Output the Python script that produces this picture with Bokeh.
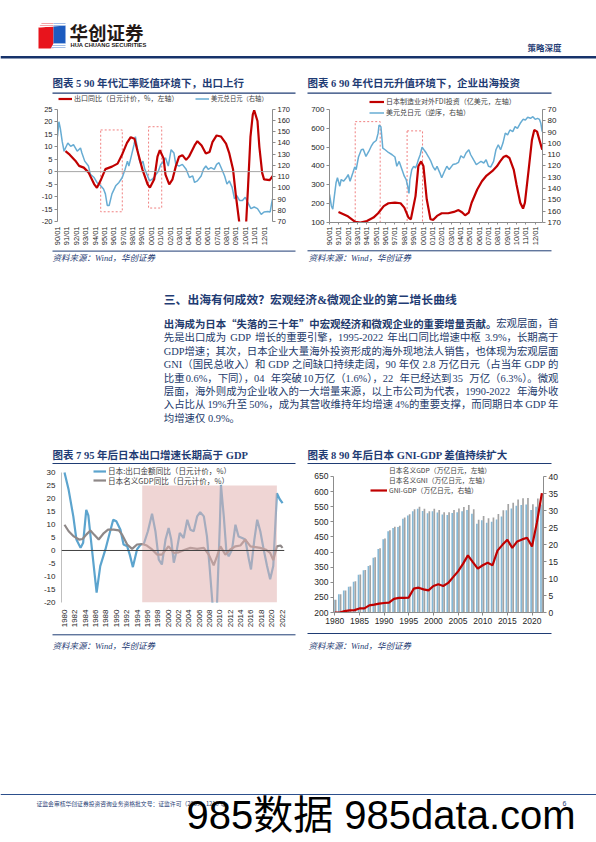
import math
from bokeh.plotting import figure
from bokeh.layouts import column, row
from bokeh.models import (Range1d, LinearAxis, FixedTicker, Span, Legend, LegendItem,
                          ColumnDataSource)
from bokeh.transform import dodge
from bokeh.core.properties import value
from bokeh.embed import file_html
from bokeh.resources import INLINE

# ---------------------------------------------------------------- data
# Chart 5: 出口同比 (left axis, %) and 美元兑日元 (right axis)
c5_tick_years = list(range(1990, 2013))
c5_tick_labels = ["90/01", "91/01", "92/01", "93/01", "94/01", "95/01", "96/01", "97/01",
                  "98/01", "99/01", "00/01", "01/01", "02/01", "03/01", "04/01", "05/01",
                  "06/01", "07/01", "08/01", "09/01", "10/01", "11/01", "12/01"]
c5_export_x = [1990.85, 1991.3, 1991.9, 1992.3, 1992.8, 1993.3, 1993.9, 1994.2, 1994.6, 1995.1,
               1995.8, 1996.4, 1996.9, 1997.4, 1997.8, 1998.2, 1998.5, 1999.05, 1999.6, 1999.85,
               2000.3, 2000.65, 2000.9, 2001.3, 2001.5, 2001.9, 2002.25, 2002.6, 2002.95, 2003.3,
               2003.7, 2004.0, 2004.6, 2004.9, 2005.35, 2005.8, 2006.2, 2006.5, 2006.95, 2007.4,
               2007.95, 2008.3, 2008.7, 2009.0, 2009.35, 2009.6, 2009.85, 2010.1, 2010.3, 2010.55,
               2010.8, 2010.95, 2011.3, 2011.5, 2011.8, 2012.0, 2012.6, 2012.95]
c5_export_y = [8.2, 6.8, 4.4, 2.3, 1.6, -0.3, -5.0, -6.5, -3.5, 1.0,
               2.0, 3.2, 7.0, 11.5, 13.8, 13.2, 8.6, 0.8, -5.1, -6.4,
               -3.1, 6.0, 8.6, 5.3, -1.2, -5.1, -3.1, 2.1, 6.0, 6.6,
               4.7, 6.0, 10.5, 12.2, 10.5, 7.3, 7.9, 11.8, 14.5, 14.1,
               11.2, 7.3, 0.8, -9.6, -20.0, -33.0, -30.0, -20.0, -5.7, 13.8,
               22.9, 24.6, 20.3, 9.9, -0.5, -3.1, -3.4, -1.6]
c5_usdjpy_x = [1990.0, 1990.15, 1990.3, 1990.5, 1990.7, 1990.85, 1991.1, 1991.4, 1991.7, 1992.1,
               1992.45, 1992.6, 1992.9, 1993.3, 1993.5, 1993.9, 1994.2, 1994.6, 1994.9, 1995.1,
               1995.3, 1995.5, 1995.8, 1996.2, 1996.55, 1996.9, 1997.2, 1997.45, 1997.6, 1997.9,
               1998.15, 1998.3, 1998.5, 1998.7, 1998.9, 1999.1, 1999.3, 1999.6, 1999.8, 2000.1,
               2000.4, 2000.75, 2001.0, 2001.2, 2001.5, 2001.8, 2002.1, 2002.4, 2002.6, 2002.95,
               2003.3, 2003.7, 2004.05, 2004.4, 2004.6, 2004.9, 2005.3, 2005.55, 2005.8, 2006.05,
               2006.35, 2006.7, 2006.95, 2007.2, 2007.5, 2007.8, 2008.05, 2008.3, 2008.6, 2008.85,
               2009.1, 2009.4, 2009.7, 2010.0, 2010.25, 2010.6, 2010.95, 2011.3, 2011.7, 2012.0,
               2012.4, 2012.65, 2012.8, 2012.95]
c5_usdjpy_y = [145.7, 158.9, 153.0, 141.3, 132.6, 135.5, 139.9, 137.0, 138.4, 132.6,
               135.5, 131.1, 123.8, 119.4, 112.1, 109.2, 104.8, 101.8, 98.9, 94.6,
               84.3, 84.3, 94.6, 101.8, 104.8, 109.2, 116.5, 123.8, 119.4, 129.6,
               138.4, 145.7, 135.5, 125.3, 120.9, 123.8, 116.5, 110.6, 106.2, 107.7,
               110.6, 115.0, 120.9, 122.4, 126.8, 119.4, 134.0, 131.1, 120.9, 119.4,
               120.9, 116.5, 109.2, 110.6, 104.8, 106.2, 110.6, 116.5, 119.4, 116.5,
               118.0, 116.5, 120.9, 122.4, 116.5, 110.6, 103.3, 106.2, 100.4, 90.2,
               93.1, 88.7, 88.7, 91.6, 87.3, 81.4, 82.9, 81.4, 76.4, 78.5,
               79.0, 78.5, 85.8, 91.6]
c5_box_left = [1994.6, 1999.7]
c5_box_right = [1996.9, 2001.1]
c5_box_bottom = [-16.1, -14.6]
c5_box_top = [16.7, 18.0]

# Chart 6: 日本制造业对外FDI投资 (left) and 美元兑日元 reversed (right)
c6_fdi_x = [1990.96, 1991.9, 1992.75, 1993.3, 1994.0, 1994.7, 1995.2, 1995.8, 1996.3, 1997.0,
            1997.6, 1998.0, 1998.45, 1998.7, 1999.2, 1999.5, 1999.8, 2000.05, 2000.4, 2000.8,
            2001.1, 2001.5, 2002.0, 2002.7, 2003.3, 2003.8, 2004.2, 2004.5, 2004.9, 2005.2,
            2005.8, 2006.3, 2006.8, 2007.4, 2007.9, 2008.25, 2008.6, 2008.9, 2009.25, 2009.7,
            2010.0, 2010.4, 2010.7, 2010.9, 2011.3, 2011.65, 2011.9, 2012.2, 2012.5, 2012.75]
c6_fdi_y = [156, 135, 103, 100, 108, 126, 149, 187, 202, 205,
            202, 179, 126, 117, 240, 398, 424, 398, 223, 117,
            114, 135, 149, 149, 156, 166, 153, 138, 153, 205,
            275, 319, 349, 372, 398, 424, 447, 454, 442, 381,
            302, 205, 174, 205, 381, 538, 591, 582, 529, 486]
c6_usdjpy_x = [1990.0, 1990.2, 1990.35, 1990.5, 1990.7, 1990.85, 1991.1, 1991.25, 1991.5, 1991.8,
               1992.0, 1992.2, 1992.5, 1992.7, 1992.85, 1993.1, 1993.4, 1993.6, 1993.9, 1994.2,
               1994.45, 1994.7, 1995.0, 1995.2, 1995.3, 1995.5, 1995.7, 1995.95, 1996.3, 1996.7,
               1997.0, 1997.2, 1997.45, 1997.75, 1998.0, 1998.2, 1998.4, 1998.5, 1998.6, 1998.8,
               1999.0, 1999.2, 1999.35, 1999.5, 1999.7, 1999.9, 2000.1, 2000.35, 2000.6, 2000.85,
               2001.05, 2001.3, 2001.5, 2001.8, 2002.0, 2002.3, 2002.55, 2002.8, 2003.2, 2003.55,
               2003.8, 2004.05, 2004.35, 2004.6, 2004.9, 2005.1, 2005.4, 2005.7, 2005.95, 2006.2,
               2006.5, 2006.75, 2007.0, 2007.25, 2007.55, 2007.8, 2008.05, 2008.3, 2008.55, 2008.8,
               2009.05, 2009.3, 2009.6, 2009.85, 2010.1, 2010.4, 2010.7, 2010.95, 2011.2, 2011.5,
               2011.75, 2012.0, 2012.25, 2012.45, 2012.6, 2012.75]
c6_usdjpy_y = [145.2, 155.4, 158.3, 148.0, 134.9, 130.5, 137.9, 132.0, 133.5, 130.5,
               127.6, 133.5, 126.1, 120.9, 123.2, 112.1, 105.7, 105.1, 111.6, 107.2,
               102.8, 99.3, 97.5, 91.0, 83.8, 85.3, 104.2, 105.7, 108.1, 110.1,
               112.1, 120.3, 116.0, 123.2, 129.1, 132.0, 139.3, 144.3, 132.0, 123.2,
               120.3, 121.7, 118.8, 114.5, 110.1, 103.3, 105.7, 108.6, 112.1, 116.0,
               120.3, 123.8, 120.3, 126.1, 130.5, 124.7, 120.3, 123.2, 118.8, 118.0,
               116.8, 111.0, 113.0, 108.6, 105.7, 110.1, 114.5, 118.8, 117.4, 116.0,
               117.4, 114.5, 120.3, 120.9, 116.0, 105.7, 101.3, 105.7, 99.8, 91.0,
               92.5, 88.2, 89.7, 85.3, 86.8, 82.3, 78.8, 79.4, 77.0, 77.9,
               76.5, 78.8, 77.9, 78.8, 82.3, 89.7]
c6_box_left = [1992.75, 1998.3]
c6_box_right = [1995.42, 1999.95]
c6_box_bottom = [100, 100]
c6_box_top = [635, 586]

# Chart 7: 日本出口金额同比 and 名义GDP同比 (%)
c7_tick_years = list(range(1980, 2023, 2))
c7_tick_labels = ["1980", "1982", "1984", "1986", "1988", "1990", "1992", "1994", "1996",
                  "1998", "2000", "2002", "2004", "2006", "2008", "2010", "2012", "2014",
                  "2016", "2018", "2020", "2022"]
c7_export_x = [1980.0, 1980.8, 1981.7, 1982.3, 1983.1, 1983.6, 1984.2, 1984.6, 1985.3, 1986.2,
               1986.9, 1987.9, 1988.55, 1989.4, 1990.0, 1990.8, 1991.4, 1992.1, 1992.6, 1993.2,
               1994.0, 1994.7, 1995.3, 1996.1, 1996.9, 1997.55, 1998.2, 1998.8, 1999.5, 2000.1,
               2000.6, 2001.1, 2001.7, 2002.25, 2003.0, 2003.7, 2004.3, 2004.95, 2005.6, 2006.2,
               2006.9, 2007.5, 2008.0, 2008.55, 2009.0, 2009.45, 2010.0, 2010.2, 2010.75, 2011.25,
               2011.7, 2012.35, 2013.0, 2013.6, 2014.3, 2014.9, 2015.6, 2016.0, 2016.65, 2017.2,
               2017.8, 2018.45, 2019.1, 2019.7, 2020.3, 2021.0, 2021.55, 2022.1]
c7_export_y = [30.0, 23.3, 13.1, 4.2, 1.0, 3.0, 15.6, 13.5, 0.4, -16.2,
               -6.0, 0.4, 5.4, 11.8, 11.2, 8.0, 2.3, 1.6, -1.6, -6.4,
               0.4, 2.3, 2.5, 7.4, 14.1, 7.4, -3.5, -5.4, 4.2, 8.6,
               4.2, -4.7, 0.4, 6.7, 4.8, 11.8, 8.0, 7.4, 13.1, 14.7,
               13.1, 5.4, -6.0, -20.0, -33.0, -20.0, 10.5, 25.2, 13.1, -0.3,
               -2.2, 0.4, 9.9, 5.4, 4.8, 4.2, -3.5, -7.3, 4.2, 11.8,
               7.4, 0.4, -6.0, -11.1, -6.0, 22.0, 19.7, 18.2]
c7_gdp_x = [1980.0, 1980.8, 1981.8, 1982.8, 1983.5, 1984.2, 1985.0, 1985.7, 1986.6, 1987.6,
            1988.4, 1989.5, 1990.5, 1991.1, 1992.1, 1993.05, 1994.0, 1995.0, 1995.9, 1996.9,
            1997.9, 1998.8, 2000.1, 2001.1, 2002.05, 2003.35, 2004.3, 2005.6, 2006.9, 2007.85,
            2008.8, 2009.45, 2010.1, 2011.05, 2012.0, 2013.0, 2013.95, 2014.9, 2015.9, 2016.85,
            2017.8, 2018.8, 2019.7, 2020.3, 2021.0, 2021.7, 2022.1]
c7_gdp_y = [9.9, 7.4, 5.4, 4.2, 4.4, 6.1, 7.7, 6.1, 4.2, 6.7,
            8.0, 8.0, 7.7, 6.1, 2.3, 0.6, 2.3, 2.5, 1.9, 0.4,
            -1.6, -1.6, 1.6, -0.9, -0.7, 0.4, 1.0, 0.6, 1.0, -1.6,
            -5.7, -2.2, 1.6, -1.6, 0.4, 1.6, 1.9, 4.2, 1.6, 1.3,
            1.0, 0.4, -0.9, -3.7, 1.6, 1.9, 1.0]
c7_shade = {"left": [1995.0], "right": [2021.0], "bottom": [-20.0], "top": [25.0]}

# Chart 8: 名义GDP, 名义GNI (万亿日元, left) and GNI-GDP (right)
c8_years = list(range(1980, 2023))
c8_tick_years = [1980, 1985, 1990, 1995, 2000, 2005, 2010, 2015, 2020]
c8_gdp = [242, 260, 273, 285, 302, 325, 340, 354, 381, 410,
          442, 469, 480, 483, 510, 521, 535, 543, 536, 528,
          535, 531, 524, 523, 529, 532, 535, 539, 527, 494,
          505, 497, 500, 508, 518, 538, 544, 553, 556, 557,
          539, 550, 557]
c8_gni = [242, 260, 273, 286, 303, 326, 341, 356, 383, 413,
          445, 472, 484, 487, 514, 525, 542, 550, 543, 535,
          543, 539, 532, 532, 539, 544, 549, 556, 542, 507,
          519, 512, 514, 526, 538, 559, 563, 574, 578, 579,
          558, 577, 592]
c8_gap = [0.0, 0.0, 0.4, 0.6, 0.7, 1.2, 1.2, 2.1, 2.3, 2.6,
          2.8, 2.9, 4.0, 4.3, 4.3, 4.4, 7.0, 7.3, 6.8, 6.5,
          7.8, 8.3, 7.8, 8.7, 10.4, 12.1, 14.3, 16.8, 14.8, 12.9,
          13.9, 14.6, 13.9, 18.2, 19.9, 21.4, 19.0, 20.9, 21.5, 22.0,
          19.4, 26.5, 35.1]

# ---------------------------------------------------------------- styles
NAVY = "#1F3C74"
TXT = "#233A6B"
RED = "#C00000"
BLUE = "#67ACD3"
BLUE7 = "#5CA4CE"
GREY7 = "#8E8888"
GDP_BLUE = "#86B8D6"
GNI_GREY = "#A3A3A3"
AX = "#8C8C8C"
LAB = "#262626"
CN = "Noto Sans CJK SC"
SERIF_CN = "Liberation Serif, Noto Sans CJK SC"
SANS = "Liberation Sans"


def canvas(x0, x1, y0, y1):
    p = figure(width=x1 - x0, height=y1 - y0, x_range=Range1d(x0, x1), y_range=Range1d(y1, y0),
               toolbar_location=None, output_backend="svg", x_axis_type=None, y_axis_type=None,
               min_border=0, outline_line_color=None, title=None, frame_align=False)
    return p


def T(p, x, y, s, size, color=NAVY, font=SERIF_CN, style="normal", align="left"):
    p.text(x=[x], y=[y], text=[s], text_font=value(font), text_font_size=f"{size}px",
           text_color=color, text_font_style=style, text_align=align, text_baseline="middle")


def H(p, x0, x1, y, color=NAVY, w=1.0):
    p.line([x0, x1], [y, y], line_color=color, line_width=w)


def est_w(s, size):
    w = 0.0
    for ch in s:
        if ord(ch) >= 0x2E80:
            w += size
        elif ch.isdigit():
            w += 0.5 * size
        elif ch == ".":
            w += 0.25 * size
        elif ch == "-":
            w += 0.333 * size
        elif ch == "%":
            w += 0.833 * size
        elif ch in "GDN":
            w += 0.722 * size
        elif ch == "P":
            w += 0.556 * size
        elif ch == "I":
            w += 0.333 * size
        else:
            w += 0.5 * size
    return w


def justify(p, line, y, x0, x1, size, color):
    segs = line.split(" ")
    if len(segs) == 1:
        T(p, x0, y, line, size, color=color)
        return
    widths = [est_w(s, size) for s in segs]
    gap = (x1 - x0 - sum(widths)) / (len(segs) - 1)
    x = x0
    for i, (s, w) in enumerate(zip(segs, widths)):
        if i == len(segs) - 1:
            T(p, x1, y, s, size, color=color, align="right")
        else:
            T(p, x, y, s, size, color=color)
        x += w + gap


def chart(w, h, xr, yr, bl, br, bt, bb):
    p = figure(width=w, height=h, x_range=Range1d(*xr), y_range=Range1d(*yr),
               toolbar_location=None, output_backend="svg", title=None,
               min_border_left=bl, min_border_right=br, min_border_top=bt, min_border_bottom=bb,
               outline_line_color=None, frame_align=False)
    p.grid.visible = False
    return p


def style_axis(ax, ticks, labels, size, orient=None, line=True, tick=True, standoff=2, bounds=None,
               tick_out=3):
    ax.ticker = FixedTicker(ticks=ticks)
    ax.major_label_overrides = {t: l for t, l in zip(ticks, labels)}
    ax.major_label_text_font = SANS
    ax.major_label_text_font_size = f"{size}px"
    ax.major_label_text_color = LAB
    ax.axis_line_color = AX if line else None
    ax.major_tick_line_color = AX if tick else None
    ax.major_tick_out = tick_out
    ax.major_tick_in = 0
    ax.minor_tick_line_color = None
    ax.major_label_standoff = standoff
    if bounds is not None:
        ax.bounds = bounds
    if orient is not None:
        ax.major_label_orientation = orient


def leg(p, r, label, x_off, y_bottom, size, gw, h):
    # location = (x of glyph left, y of legend bottom) measured from the frame's bottom-left
    lg = Legend(items=[LegendItem(label=label, renderers=[r])], location=(x_off, y_bottom))
    lg.padding = 0
    lg.margin = 0
    lg.spacing = 0
    lg.border_line_alpha = 0
    lg.background_fill_alpha = 0
    lg.glyph_width = gw
    lg.glyph_height = h
    lg.label_height = h
    lg.label_standoff = 2
    lg.label_text_font = CN
    lg.label_text_font_size = f"{size}px"
    lg.label_text_color = "#404040"
    p.add_layout(lg)


SRC = "资料来源：Wind，华创证券"

# ---------------------------------------------------------------- header
hdr = canvas(0, 596, 0, 66)
hdr.patch([38, 53, 53, 38], [27, 26, 48, 48], fill_color="#E8141C", line_color=None)
hdr.patch([53, 65, 65, 53], [25.5, 25, 43, 43], fill_color="#1C5BBF", line_color=None)
hdr.patch([42, 53, 53, 38], [21.5, 21.5, 26, 27], fill_color="white", hatch_pattern="horizontal_line",
          hatch_color="#E8141C", hatch_scale=2, hatch_weight=0.8, line_color=None)
hdr.patch([53, 65, 65, 53], [21.5, 21.5, 25, 26], fill_color="white", hatch_pattern="horizontal_line",
          hatch_color="#1C5BBF", hatch_scale=2, hatch_weight=0.8, line_color=None)
hdr.patch([53, 65, 65, 50], [43, 43, 48.3, 48.3], fill_color="white", hatch_pattern="horizontal_line",
          hatch_color="#1C5BBF", hatch_scale=2, hatch_weight=0.8, line_color=None)
T(hdr, 69, 31.5, "华创证券", 18.5, color="#231815", font=CN, style="bold")
T(hdr, 70, 44.3, "HUA CHUANG SECURITIES", 5.8, color="#231815", font=SANS, style="bold")
T(hdr, 527, 46, "策略深度", 8.5, color=NAVY, font=CN, style="bold")
H(hdr, 0, 596, 56.8, color="#17336B", w=2.6)

# ---------------------------------------------------------------- chart 5
t5 = canvas(0, 302, 66, 94)
T(t5, 52, 83, "图表 5 90 年代汇率贬值环境下，出口上行", 10.5, style="bold")
H(t5, 52, 295, 92.7, w=1.3)

# frame spans 94..223 (page); the axes are bounded to -20..25 / 70..170 (109..223)
p5 = chart(302, 154, (1990, 2012.9), (-20, 30.92), 57, 30, 0, 25)
p5.extra_y_ranges = {"r": Range1d(70, 183.16)}
p5.add_layout(LinearAxis(y_range_name="r"), "right")
style_axis(p5.xaxis[0], c5_tick_years, c5_tick_labels, 7.5, orient=math.pi / 2, line=False, tick=False)
t5l = list(range(-20, 26, 5))
style_axis(p5.left[0], t5l, [str(v) for v in t5l], 7.5, bounds=(-20, 25))
t5r = list(range(70, 171, 10))
style_axis(p5.right[0], t5r, [str(v) for v in t5r], 7.5, bounds=(70, 170))
p5.add_layout(Span(location=0, dimension="width", line_color="#A6A6A6", line_width=1))
p5.quad(left=c5_box_left, right=c5_box_right, bottom=c5_box_bottom, top=c5_box_top,
        fill_color=None, line_color="#F08080", line_dash="2 2", line_width=1)
r5b = p5.line(c5_usdjpy_x, c5_usdjpy_y, y_range_name="r", line_color=BLUE, line_width=1.5)
r5r = p5.line(c5_export_x, c5_export_y, line_color=RED, line_width=2.2)
leg(p5, r5r, "出口同比（日元计价，%，左轴）", 1, 117.5, 7, 14, 11)
leg(p5, r5b, "美元兑日元（右轴）", 138, 117.5, 6.3, 14, 11)

s5 = canvas(0, 302, 248, 266)
H(s5, 52, 295, 250.6, w=1)
T(s5, 52, 257, SRC, 8.5, style="italic")

# ---------------------------------------------------------------- chart 6
t6 = canvas(302, 596, 66, 94)
T(t6, 307, 83, "图表 6 90 年代日元升值环境下，企业出海投资", 10.5, style="bold")
H(t6, 307, 551, 92.7, w=1.3)

p6 = chart(294, 154, (1990, 2012.78), (100, 778.95), 27, 54, 0, 25)
p6.extra_y_ranges = {"r": Range1d(170, 56.84)}
p6.add_layout(LinearAxis(y_range_name="r"), "right")
style_axis(p6.xaxis[0], c5_tick_years, c5_tick_labels, 7.5, orient=math.pi / 2, tick_out=2)
t6l = list(range(100, 701, 100))
style_axis(p6.left[0], t6l, [str(v) for v in t6l], 8, bounds=(100, 700))
style_axis(p6.right[0], t5r, [str(v) for v in t5r], 8, bounds=(70, 170))
p6.quad(left=c6_box_left, right=c6_box_right, bottom=c6_box_bottom, top=c6_box_top,
        fill_color=None, line_color="#F08080", line_dash="2 2", line_width=1)
r6b = p6.line(c6_usdjpy_x, c6_usdjpy_y, y_range_name="r", line_color=BLUE, line_width=1.5)
r6r = p6.line(c6_fdi_x, c6_fdi_y, line_color=RED, line_width=2.2)
leg(p6, r6r, "日本制造业对外FDI投资（亿美元，左轴）", 40, 115.2, 7, 15, 11)
leg(p6, r6b, "美元兑日元（逆序，右轴）", 40, 104.2, 7, 15, 11)

s6 = canvas(302, 596, 248, 266)
H(s6, 307, 551, 250.3, w=1)
T(s6, 308, 257, SRC, 8.5, style="italic")

# ---------------------------------------------------------------- text
tx = canvas(0, 596, 266, 444)
T(tx, 163.3, 299, "三、出海有何成效？宏观经济&微观企业的第二增长曲线", 11.8, style="bold")
T(tx, 163.3, 322.7, "出海成为日本“失落的三十年”中宏观经济和微观企业的重要增量贡献。", 10.4,
  color=TXT, font=CN, style="bold")
T(tx, 558, 322.7, "宏观层面，首", 10.4, color=TXT, align="right")
para_lines = [
    "先是出口成为 GDP 增长的重要引擎，1995-2022 年出口同比增速中枢 3.9%，长期高于",
    "GDP 增速；其次，日本企业大量海外投资形成的海外现地法人销售，也体现为宏观层面",
    "GNI（国民总收入）和 GDP 之间缺口持续走阔，90 年仅 2.8 万亿日元（占当年 GDP 的",
    "比重 0.6%，下同），04 年突破 10 万亿（1.6%），22 年已经达到 35 万亿（6.3%）。微观",
    "层面，海外则成为企业收入的一大增量来源，以上市公司为代表，1990-2022 年海外收",
    "入占比从 19%升至 50%，成为其营收维持年均增速 4%的重要支撑，而同期日本 GDP 年",
]
para_y = [337.3, 351.0, 364.3, 377.7, 391.0, 404.3]
for s, yy in zip(para_lines, para_y):
    justify(tx, s, yy, 163.3, 558, 10.4, TXT)
T(tx, 163.3, 417.7, "均增速仅 0.9%。", 10.4, color=TXT)

# ---------------------------------------------------------------- chart 7
t7 = canvas(0, 302, 444, 464)
T(t7, 52, 455, "图表 7 95 年后日本出口增速长期高于 GDP", 10.5, style="bold")
H(t7, 52, 295, 463.2, w=1.3)

p7 = chart(302, 166, (1979.42, 2022.47), (-20, 33.05), 61, 18, 0, 27)
style_axis(p7.xaxis[0], c7_tick_years, c7_tick_labels, 8, orient=math.pi / 2, line=False, tick=False,
           standoff=4)
t7l = list(range(-20, 31, 5))
style_axis(p7.left[0], t7l, [str(v) for v in t7l], 8, standoff=3, bounds=(-20, 30))
p7.left[0].axis_line_color = "#BFBFBF"
p7.left[0].major_tick_line_color = None
r7b = p7.line(c7_export_x, c7_export_y, line_color=BLUE7, line_width=2.2)
r7g = p7.line(c7_gdp_x, c7_gdp_y, line_color=GREY7, line_width=2.2)
p7.quad(left=c7_shade["left"], right=c7_shade["right"], bottom=c7_shade["bottom"],
        top=c7_shade["top"], fill_color="#E2B2B1", fill_alpha=0.55, line_color=None)
p7.add_layout(Span(location=0, dimension="width", line_color="#404040", line_width=1))
leg(p7, r7b, "日本:出口金额同比（日元计价，%）", 32, 126, 7.6, 13, 10)
leg(p7, r7g, "日本名义GDP同比（日元计价，%）", 32, 116.5, 7.6, 13, 10)

s7 = canvas(0, 302, 630, 652)
H(s7, 52, 295, 634.3, w=1)
T(s7, 52, 645, SRC, 8.5, style="italic")

# ---------------------------------------------------------------- chart 8
t8 = canvas(302, 596, 444, 464)
T(t8, 307, 455, "图表 8 90 年后日本 GNI-GDP 差值持续扩大", 10.5, style="bold")
H(t8, 307, 551, 463.2, w=1.3)

p8 = chart(294, 166, (1979.74, 2022.33), (200, 689.7), 31, 53, 0, 18)
p8.extra_y_ranges = {"r": Range1d(0, 43.53)}
p8.add_layout(LinearAxis(y_range_name="r"), "right")
style_axis(p8.xaxis[0], c8_tick_years, [str(v) for v in c8_tick_years], 8.5, standoff=2)
t8l = list(range(200, 651, 50))
style_axis(p8.left[0], t8l, [str(v) for v in t8l], 8.5, bounds=(200, 650))
t8r = list(range(0, 41, 5))
style_axis(p8.right[0], t8r, [str(v) for v in t8r], 8.5, bounds=(0, 40))
src8 = ColumnDataSource(dict(year=c8_years, gdp=c8_gdp, gni=c8_gni, gap=c8_gap))
p8.vbar(x=dodge("year", -0.18, range=p8.x_range), top="gdp", bottom=200, width=0.34, source=src8,
        fill_color=GDP_BLUE, line_color=None)
p8.vbar(x=dodge("year", 0.18, range=p8.x_range), top="gni", bottom=200, width=0.34, source=src8,
        fill_color=GNI_GREY, line_color=None)
r8 = p8.line("year", "gap", source=src8, y_range_name="r", line_color=RED, line_width=2.2)
k_gdp = p8.line(x=[], y=[], line_color=GDP_BLUE, line_width=4)
k_gni = p8.line(x=[], y=[], line_color=GNI_GREY, line_width=4)
leg(p8, k_gdp, "日本名义GDP（万亿日元，左轴）", 37, 137, 6.8, 17, 10)
leg(p8, k_gni, "日本名义GNI（万亿日元，左轴）", 37, 127, 6.8, 17, 10)
leg(p8, r8, "GNI-GDP（万亿日元，右轴）", 37, 117, 6.8, 17, 10)

s8 = canvas(302, 596, 630, 652)
H(s8, 307, 551, 633, w=1)
T(s8, 308, 645, SRC, 8.5, style="italic")

# ---------------------------------------------------------------- footer
ft = canvas(0, 596, 652, 842)
H(ft, 0, 596, 794, color="#2C4F8C", w=1)
T(ft, 36, 803, "证监会审核华创证券投资咨询业务资格批文号：证监许可（2009）1210 号", 5.8, color=NAVY, font=CN)
T(ft, 562, 803, "6", 7, color=NAVY, font=SANS)
T(ft, 186, 814, "985数据 985data.com", 40, color="#000000", font="Liberation Sans, Noto Sans CJK SC")

page = column(hdr, row(column(t5, p5, s5), column(t6, p6, s6)), tx,
              row(column(t7, p7, s7), column(t8, p8, s8)), ft)

open("out.html", "w").write(file_html(page, INLINE, title="策略深度"))
